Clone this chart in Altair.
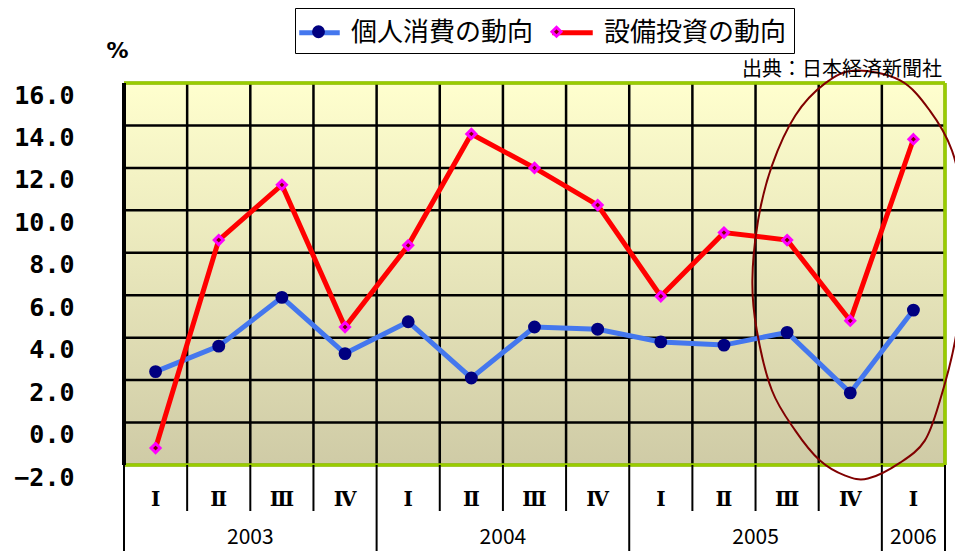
import altair as alt
import pandas as pd

# ---------------- data ----------------
quarters = ["Ⅰ", "Ⅱ", "Ⅲ", "Ⅳ", "Ⅰ", "Ⅱ", "Ⅲ", "Ⅳ", "Ⅰ", "Ⅱ", "Ⅲ", "Ⅳ", "Ⅰ"]
years = ["2003", "2003", "2003", "2003", "2004", "2004", "2004", "2004",
         "2005", "2005", "2005", "2005", "2006"]
consumption = [2.4, 3.6, 5.9, 3.25, 4.75, 2.1, 4.5, 4.4, 3.8, 3.65, 4.25, 1.4, 5.3]
investment = [-1.2, 8.6, 11.2, 4.5, 8.35, 13.6, 12.0, 10.25, 5.95, 8.95, 8.6, 4.8, 13.35]
series_names = ["個人消費の動向", "設備投資の動向"]
y_ticks = [-2, 0, 2, 4, 6, 8, 10, 12, 14, 16]
source_text = "出典：日本経済新聞社"

# hand-drawn ellipse annotation (data units)
ell_x = [11.58, 12.29, 12.76, 13.11, 13.27, 13.29, 13.16, 12.92, 12.68, 12.29, 11.78,
         11.42, 11.02, 10.63, 10.26, 10.02, 9.95, 10.04, 10.26, 10.63, 11.10]
ell_y = [16.59, 16.12, 14.70, 12.82, 10.46, 7.16, 3.86, 1.04, -0.85, -1.89, -2.64,
         -2.50, -1.79, -0.38, 1.51, 4.34, 6.69, 9.52, 12.11, 14.47, 15.98]

# ---------------- tables ----------------
n = len(quarters)
pos = [i + 0.5 for i in range(n)]
lines_df = pd.DataFrame({
    "x": pos * 2,
    "v": consumption + investment,
    "series": [series_names[0]] * n + [series_names[1]] * n,
    "ord": list(range(n)) * 2,
})
pts_df = pd.DataFrame({
    "x": pos * 2,
    "v": consumption + investment,
    "marker": [series_names[0]] * n + [series_names[1]] * n,
})
q_df = pd.DataFrame({"x": pos, "q": quarters})
yr_df = pd.DataFrame({"x": pos, "year": years}).groupby("year", as_index=False)["x"].mean()

bounds = []
for b in range(n + 1):
    is_year = b == 0 or b == n or years[b] != years[b - 1]
    bounds.append({"x": b, "year_edge": is_year})
bounds_df = pd.DataFrame(bounds)
qsep_df = bounds_df[~bounds_df["year_edge"]]
ysep_df = bounds_df[bounds_df["year_edge"]]

hgrid_df = pd.DataFrame({"y": y_ticks, "x0": 0, "x1": n})
vgrid_df = pd.DataFrame({"x": list(range(n + 1)), "y0": y_ticks[0], "y1": y_ticks[-1]})
bg_df = pd.DataFrame({"x0": [0], "x1": [n], "y0": [y_ticks[0]], "y1": [y_ticks[-1]]})
ell_df = pd.DataFrame({"x": ell_x, "y": ell_y, "o": list(range(len(ell_x)))})

# ---------------- scales / axes ----------------
xsc = alt.Scale(domain=[0, n], nice=False, zero=False)
ysc = alt.Scale(domain=[y_ticks[0], y_ticks[-1]], nice=False, zero=False)
yaxis = alt.Axis(values=y_ticks, format=".1f", grid=False, ticks=False, domain=False,
                 labelFont="DejaVu Sans Mono", labelFontWeight="bold", labelFontSize=25,
                 labelColor="black", labelPadding=50, labelBaseline="top",
                 title="%", titleAngle=0, titleX=-7, titleY=-33, titleAlign="center",
                 titleBaseline="middle", titleFont="DejaVu Sans", titleFontSize=22,
                 titleFontWeight="bold", titleColor="black", labelFlush=False)

W, H = 821, 382

bg = alt.Chart(bg_df).mark_rect(
    fill={"gradient": "linear", "x1": 0, "y1": 0, "x2": 0, "y2": 1,
          "stops": [{"offset": 0, "color": "#FFFFCE"}, {"offset": 1, "color": "#CFCBA6"}]}
).encode(
    x=alt.X("x0:Q", scale=xsc, axis=None), x2="x1",
    y=alt.Y("y0:Q", scale=ysc, axis=yaxis), y2="y1",
)

hgrid = alt.Chart(hgrid_df).mark_rule(color="black", strokeWidth=2.5).encode(
    y=alt.Y("y:Q", scale=ysc), x=alt.X("x0:Q", scale=xsc, axis=None), x2="x1")
vgrid = alt.Chart(vgrid_df).mark_rule(color="black", strokeWidth=2.5).encode(
    x=alt.X("x:Q", scale=xsc, axis=None), y=alt.Y("y0:Q", scale=ysc), y2="y1")

green = "#99CC00"
border_h = alt.Chart(hgrid_df[hgrid_df["y"].isin([y_ticks[0], y_ticks[-1]])]).mark_rule(
    color=green, strokeWidth=3.5).encode(
    y=alt.Y("y:Q", scale=ysc), x=alt.X("x0:Q", scale=xsc, axis=None), x2="x1")
border_r = alt.Chart(vgrid_df[vgrid_df["x"] == n]).mark_rule(color=green, strokeWidth=3.5).encode(
    x=alt.X("x:Q", scale=xsc, axis=None), y=alt.Y("y0:Q", scale=ysc), y2="y1")
border_l = alt.Chart(vgrid_df[vgrid_df["x"] == 0]).mark_rule(color="black", strokeWidth=4).encode(
    x=alt.X("x:Q", scale=xsc, axis=None), y=alt.Y("y0:Q", scale=ysc), y2="y1")

qsep = alt.Chart(qsep_df).mark_rule(color="black", strokeWidth=2).encode(
    x=alt.X("x:Q", scale=xsc, axis=None), y=alt.value(H), y2=alt.value(H + 46))
ysep = alt.Chart(ysep_df).mark_rule(color="black", strokeWidth=2).encode(
    x=alt.X("x:Q", scale=xsc, axis=None), y=alt.value(H), y2=alt.value(H + 88))

qtext = alt.Chart(q_df).mark_text(font="DejaVu Serif", fontWeight="bold", fontSize=20,
                                  baseline="middle", color="black").encode(
    x=alt.X("x:Q", scale=xsc, axis=None), y=alt.value(H + 35), text="q:N")
ytext = alt.Chart(yr_df).mark_text(font="Noto Sans CJK JP", fontSize=21,
                                   baseline="middle", color="black").encode(
    x=alt.X("x:Q", scale=xsc, axis=None), y=alt.value(H + 73), text="year:N")

LEG = dict(title=None, orient="none", legendX=171, legendY=-75,
           direction="horizontal", columns=2, columnPadding=8,
           symbolSize=900, labelOffset=14,
           labelFont="Noto Sans CJK JP", labelFontSize=26,
           labelLimit=400, padding=7)

lines = alt.Chart(lines_df).mark_line(strokeWidth=5).encode(
    x=alt.X("x:Q", scale=xsc, axis=None),
    y=alt.Y("v:Q", scale=ysc),
    order="ord:Q",
    color=alt.Color("series:N",
                    scale=alt.Scale(domain=series_names, range=["#4477EE", "#FF0000"]),
                    legend=alt.Legend(symbolType="M-1.35,0H1.35", symbolStrokeWidth=5,
                                      labelColor="black", strokeColor="black",
                                      zindex=1, **LEG)),
)

# marker scales use the data-driven domain (same order), so their legend stays separate
# and is laid out exactly on top of the line legend (its labels are transparent)
circle_path = "M0.33,0A0.33,0.33,0,1,1,-0.33,0A0.33,0.33,0,1,1,0.33,0Z"
diamond_path = "M0,-0.3L0.3,0L0,0.3L-0.3,0Z"
pt_legend = alt.Legend(symbolStrokeWidth=3, labelColor="transparent", zindex=2,
                       symbolOpacity=1, **LEG)
points = alt.Chart(pts_df).mark_point(filled=True, size=900, strokeWidth=3, opacity=1).encode(
    x=alt.X("x:Q", scale=xsc, axis=None),
    y=alt.Y("v:Q", scale=ysc),
    shape=alt.Shape("marker:N", scale=alt.Scale(range=[circle_path, diamond_path]),
                    legend=pt_legend),
    fill=alt.Fill("marker:N", scale=alt.Scale(range=["#000080", "#800000"]),
                  legend=pt_legend),
    stroke=alt.Stroke("marker:N", scale=alt.Scale(range=["#000080", "#FF00FF"]),
                      legend=pt_legend),
)

ellipse = alt.Chart(ell_df).mark_line(interpolate="cardinal-closed", color="#800000",
                                      strokeWidth=2).encode(
    x=alt.X("x:Q", scale=xsc, axis=None), y=alt.Y("y:Q", scale=ysc), order="o:Q")

source = alt.Chart(pd.DataFrame({"t": [source_text]})).mark_text(
    font="Noto Sans CJK JP", fontSize=20, align="right", baseline="middle", color="black"
).encode(x=alt.value(818), y=alt.value(-13), text="t:N")

chart = alt.layer(
    bg, hgrid, vgrid, border_h, border_r, border_l, qsep, ysep, qtext, ytext,
    lines, points, ellipse, source
).properties(
    width=W, height=H,
    autosize=alt.AutoSizeParams(type="none"),
    padding={"left": 116, "top": 75, "right": 10, "bottom": 86},
).configure_view(stroke=None).configure_legend(strokeWidth=2).configure(background="white")

chart.save("out.html", embed_options={"renderer": "svg", "actions": False})
